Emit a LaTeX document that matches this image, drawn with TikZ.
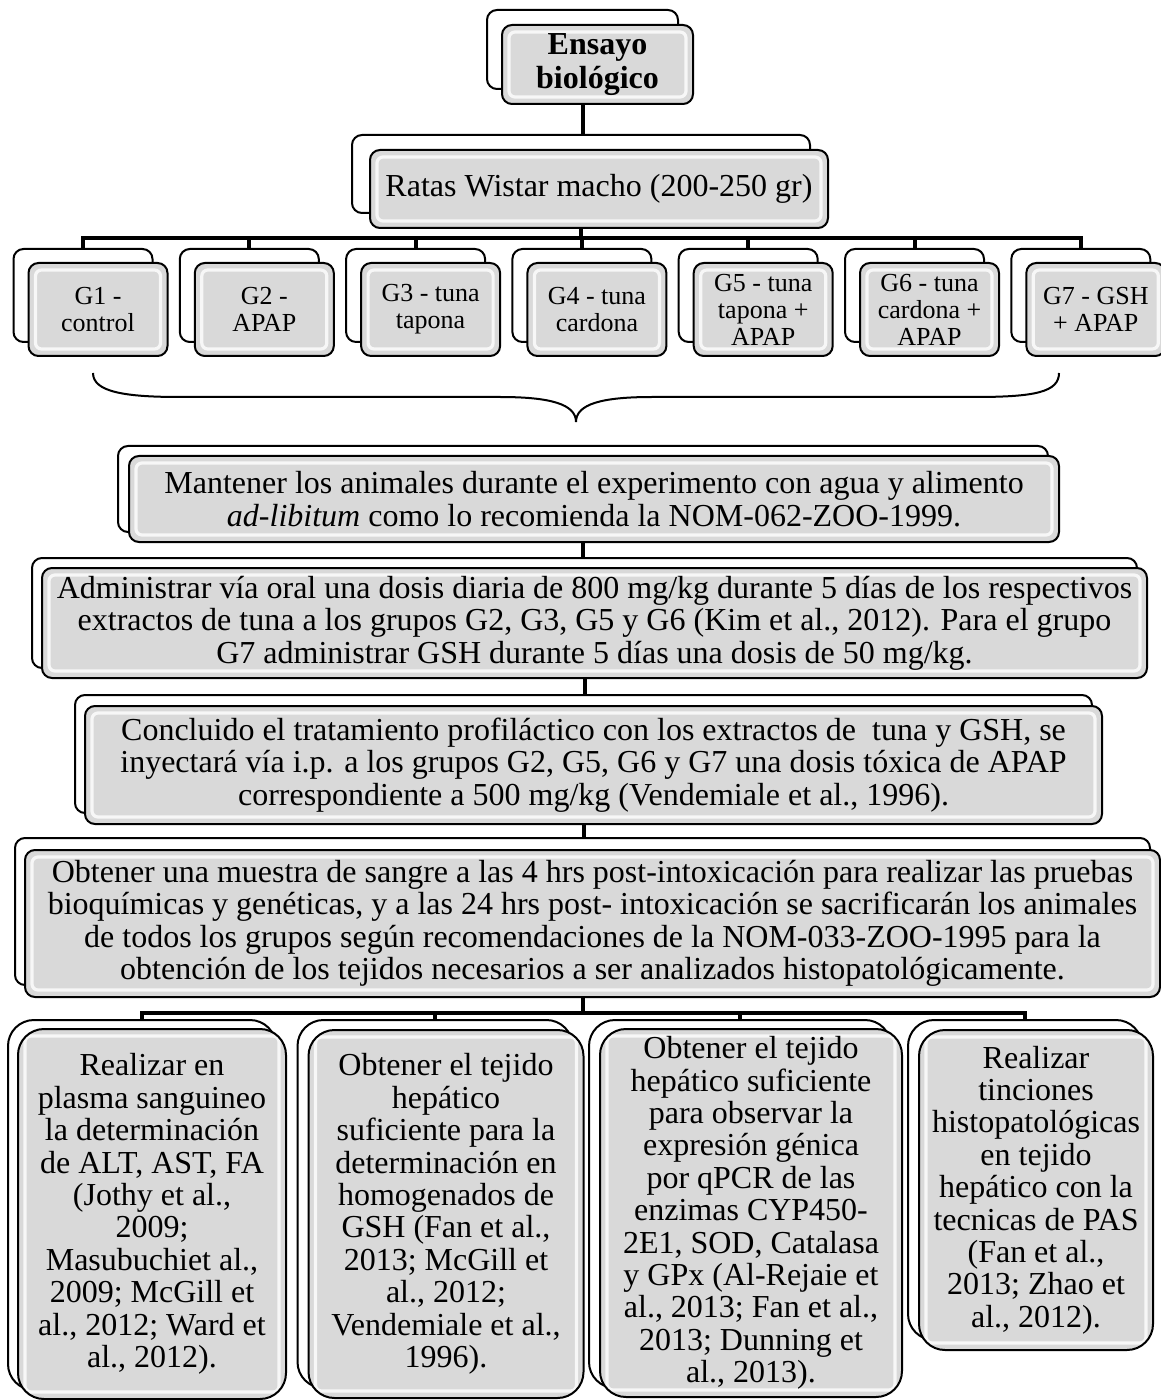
\documentclass[tikz,border=0pt]{standalone}
\usepackage{fontspec}
\setmainfont{Liberation Serif}
\usetikzlibrary{backgrounds,calc}
\definecolor{boxgray}{HTML}{D9D9D9}
\tikzset{
    backbox/.style={draw, line width=1pt, fill=white, rounded corners=5pt, inner sep=0pt},
    frontbox/.style={draw, line width=1pt, fill=boxgray, rounded corners=5pt,
        inner sep=0pt, align=center, font=\fontsize{16}{16.2}\selectfont,
        path picture={\draw [white, line width=1.6pt, opacity=.8, rounded corners=3pt]
            ([shift={(3.5pt,-3.5pt)}]path picture bounding box.north west) rectangle
            ([shift={(-3.5pt,3.5pt)}]path picture bounding box.south east);}},
    wh/.style 2 args={minimum width=#1*0.5pt, minimum height=#2*0.5pt},
    link/.style={line width=2pt},
}

\begin{document}
\begin{tikzpicture}[x=0.5pt, y=-0.5pt]
    \useasboundingbox (0, 0) rectangle (1160, 1400);

    % title
    \node [backbox, wh={191}{79}] (titleB) at (582.5, 49.5) {};
    \node [frontbox, wh={191}{79}, font=\bfseries\fontsize{16}{17}\selectfont]
        (title) at ([shift={(15, 15)}]titleB.center) {Ensayo\\biológico};

    % rats
    \node [backbox, wh={458}{78}] (ratasB) at (581, 174) {};
    \node [frontbox, wh={458}{78}] (ratas) at ([shift={(18, 15)}]ratasB.center)
        {Ratas Wistar macho (200-250 gr)};
    \coordinate (split1) at ([shift={(0, 24)}]ratasB.south);

    % groups
    \foreach \i/\txt in {1/{G1 -\\control}, 2/{G2 -\\APAP}, 3/{G3 - tuna\\tapona},
        4/{G4 - tuna\\cardona}, 5/{G5 - tuna\\tapona +\\APAP},
        6/{G6 - tuna\\cardona +\\APAP}, 7/{G7 - GSH\\+ APAP}}{
        \pgfmathsetmacro{\gx}{83 + 166.3*(\i - 1)}
        \node [backbox, wh={139}{93}] (gB\i) at (\gx, 295.5) {};
        \node [frontbox, wh={139}{93}, font=\fontsize{13}{13.5}\selectfont]
            (g\i) at ([shift={(15, 14)}]gB\i.center) {\txt};
    }

    % brace
    \draw [line width=1pt] (93, 373) .. controls (93, 392) and (125, 397) .. (180, 397)
        -- (500, 397) .. controls (550, 397) and (576, 404) .. (576, 422)
        .. controls (576, 404) and (602, 397) .. (652, 397)
        -- (975, 397) .. controls (1035, 397) and (1059, 392) .. (1059, 373);

    % steps
    \node [backbox, wh={930}{86}] (mantB) at (583, 489) {};
    \node [frontbox, wh={930}{86}] (mant) at ([shift={(11, 10)}]mantB.center)
        {Mantener los animales durante el experimento con agua y alimento\\
        \textit{ad-libitum} como lo recomienda la NOM-062-ZOO-1999.};

    \node [backbox, wh={1105}{110}] (adminB) at (584.5, 613) {};
    \node [frontbox, wh={1105}{110}] (admin) at ([shift={(10, 10)}]adminB.center)
        {Administrar vía oral una dosis diaria de 800 mg/kg durante 5 días de los respectivos\\
        extractos de tuna a los grupos G2, G3, G5 y G6 (Kim et al., 2012). Para el grupo\\
        G7 administrar GSH durante 5 días una dosis de 50 mg/kg.};

    \node [backbox, wh={1017}{118}] (conclB) at (583.5, 754) {};
    \node [frontbox, wh={1017}{118}] (concl) at ([shift={(10, 11)}]conclB.center)
        {Concluido el tratamiento profiláctico con los extractos de \ tuna y GSH, se\\
        inyectará vía i.p. a los grupos G2, G5, G6 y G7 una dosis tóxica de APAP\\
        correspondiente a 500 mg/kg (Vendemiale et al., 1996).};

    \node [backbox, wh={1135}{147}] (muestraB) at (582.5, 911.5) {};
    \node [frontbox, wh={1135}{147}] (muestra) at ([shift={(10, 12)}]muestraB.center)
        {Obtener una muestra de sangre a las 4 hrs post-intoxicación para realizar las pruebas\\
        bioquímicas y genéticas, y a las 24 hrs post- intoxicación se sacrificarán los animales\\
        de todos los grupos según recomendaciones de la NOM-033-ZOO-1995 para la\\
        obtención de los tejidos necesarios a ser analizados histopatológicamente.};
    \coordinate (split2) at ([shift={(0, 27)}]muestraB.south);

    % analyses
    \node [backbox, wh={268}{370}, rounded corners=13pt] (plasmaB) at (142, 1205) {};
    \node [frontbox, wh={268}{370}, rounded corners=13pt] (plasma)
        at ([shift={(10, 9)}]plasmaB.center)
        {Realizar en\\plasma sanguineo\\la determinación\\de ALT, AST, FA\\(Jothy et al.,\\2009;\\
        Masubuchiet al.,\\2009; McGill et\\al., 2012; Ward et\\al., 2012).};

    \node [backbox, wh={275}{368}, rounded corners=13pt] (gshB) at (435, 1204) {};
    \node [frontbox, wh={275}{368}, rounded corners=13pt] (gsh)
        at ([shift={(11, 10)}]gshB.center)
        {Obtener el tejido\\hepático\\suficiente para la\\determinación en\\homogenados de\\
        GSH (Fan et al.,\\2013; McGill et\\al., 2012;\\Vendemiale et al.,\\1996).};

    \node [backbox, wh={302}{368}, rounded corners=13pt] (qpcrB) at (740, 1204) {};
    \node [frontbox, wh={302}{368}, rounded corners=13pt] (qpcr)
        at ([shift={(11, 9)}]qpcrB.center)
        {Obtener el tejido\\hepático suficiente\\para observar la\\expresión génica\\
        por qPCR de las\\enzimas CYP450-\\2E1, SOD, Catalasa\\y GPx (Al-Rejaie et\\
        al., 2013; Fan et al.,\\2013; Dunning et\\al., 2013).};

    \node [backbox, wh={234}{320}, rounded corners=13pt] (pasB) at (1025, 1180) {};
    \node [frontbox, wh={234}{320}, rounded corners=13pt] (pas)
        at ([shift={(11, 10)}]pasB.center)
        {Realizar\\tinciones\\histopatológicas\\en tejido\\hepático con la\\
        tecnicas de PAS\\(Fan et al.,\\2013; Zhao et\\al., 2012).};

    % connectors
    \begin{scope}[on background layer]
        \draw [link] (titleB.south) -- (titleB.south |- ratasB.north);
        \draw [link] (ratasB.south) -- (split1);
        \foreach \i in {1, ..., 7}{
            \draw [link] (split1) -| (gB\i.north);
        }
        \draw [link] (mantB.south) -- (mantB.south |- adminB.north);
        \draw [link] (adminB.south) -- (adminB.south |- conclB.north);
        \draw [link] (conclB.south) -- (conclB.south |- muestraB.north);
        \draw [link] (muestraB.south) -- (split2);
        \foreach \n in {plasmaB, gshB, qpcrB, pasB}{
            \draw [link] (split2) -| (\n.north);
        }
    \end{scope}
\end{tikzpicture}
\end{document}
